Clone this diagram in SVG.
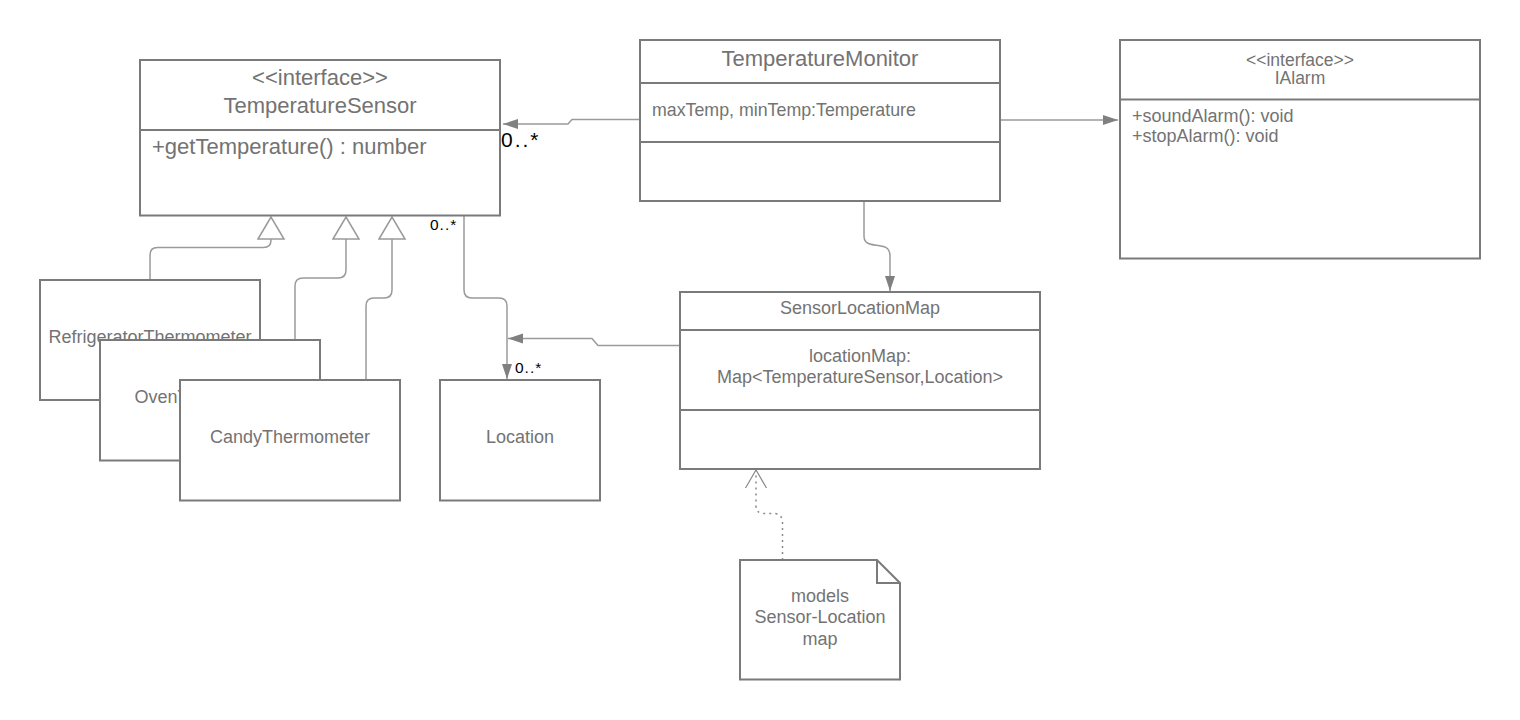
<svg xmlns="http://www.w3.org/2000/svg" width="1520" height="720" viewBox="0 0 1520 720">
<style>
.box{fill:#fff;stroke:#7a7a7a;stroke-width:2}
.div{stroke:#7a7a7a;stroke-width:2;fill:none}
.t{font-family:"Liberation Sans",Arial,sans-serif;fill:#737373}
.big{font-size:22px}
.sm{font-size:17.5px}
.mid{font-size:18px}
.c{text-anchor:middle}
.lbl{font-family:"Liberation Sans",Arial,sans-serif;fill:#000}
.con{fill:none;stroke:#9a9a9a;stroke-width:1.5}
.dot{fill:none;stroke:#8a8a8a;stroke-width:1.5;stroke-dasharray:2 4}
</style>
<defs>
<marker id="arr" markerUnits="userSpaceOnUse" markerWidth="16" markerHeight="12" viewBox="0 0 16 12" refX="15" refY="5" orient="auto">
<path d="M0,0 L15,5 L0,10 z" fill="#808080"/>
</marker>
<marker id="gen" markerUnits="userSpaceOnUse" markerWidth="26" markerHeight="30" viewBox="0 0 26 30" refX="23" refY="14" orient="auto">
<path d="M1,1 L23,14 L1,27 z" fill="#fff" stroke="#9a9a9a" stroke-width="1.5"/>
</marker>
<marker id="open" markerUnits="userSpaceOnUse" markerWidth="22" markerHeight="26" viewBox="0 0 22 26" refX="19" refY="12" orient="auto">
<path d="M1,1.5 L19,12 L1,22.5" fill="none" stroke="#8a8a8a" stroke-width="1.2"/>
</marker>
</defs>
<rect width="1520" height="720" fill="#fff"/>

<g id="connectors">
<path class="con" d="M640,119.5 H572 L568,124 H503" marker-end="url(#arr)"/>
<path class="con" d="M1000,120 H1118" marker-end="url(#arr)"/>
<path class="con" d="M864,201 V236 C864,252 890,238 890,256 V291" marker-end="url(#arr)"/>
<path class="con" d="M464,216 V290 Q464,298 472,298 H499 Q507,298 507,306 V379" marker-end="url(#arr)"/>
<path class="con" d="M680,345.5 H598 L592,338.5 H508" marker-end="url(#arr)"/>
<path class="con" d="M150,280 V255 Q150,247.5 157.5,247.5 H263.5 Q271,247.5 271,240 V217" marker-end="url(#gen)"/>
<path class="con" d="M295,340 V286 Q295,278 303,278 H338 Q346,278 346,270 V217" marker-end="url(#gen)"/>
<path class="con" d="M366,380 V306 Q366,298 374,298 H384 Q392,298 392,290 V217" marker-end="url(#gen)"/>
<path class="dot" d="M782.5,560 V522 Q782.5,515 775,513.5 H763 Q756,513 756,506 V470" marker-end="url(#open)"/>
<text class="lbl" x="501" y="147" font-size="21" letter-spacing="2">0..*</text>
<text class="lbl" x="430" y="230" font-size="15.5" letter-spacing="1">0..*</text>
<text class="lbl" x="515" y="373" font-size="15.5" letter-spacing="1">0..*</text>
</g>

<g id="TemperatureSensor">
<rect class="box" x="140" y="60" width="360" height="155.5"/>
<line class="div" x1="140" y1="130" x2="500" y2="130"/>
<text class="t big c" x="320" y="85">&lt;&lt;interface&gt;&gt;</text>
<text class="t big c" x="320" y="113">TemperatureSensor</text>
<text class="t big" x="152" y="154">+getTemperature() : number</text>
</g>

<g id="TemperatureMonitor">
<rect class="box" x="640" y="40" width="360" height="161"/>
<line class="div" x1="640" y1="83" x2="1000" y2="83"/>
<line class="div" x1="640" y1="142" x2="1000" y2="142"/>
<text class="t big c" x="820" y="66">TemperatureMonitor</text>
<text class="t" x="652" y="116" font-size="17.8">maxTemp, minTemp:Temperature</text>
</g>

<g id="IAlarm">
<rect class="box" x="1120" y="40" width="360" height="218.5"/>
<line class="div" x1="1120" y1="99.5" x2="1480" y2="99.5"/>
<text class="t sm c" x="1300" y="66">&lt;&lt;interface&gt;&gt;</text>
<text class="t sm c" x="1300" y="84">IAlarm</text>
<text class="t mid" x="1132" y="121.5">+soundAlarm(): void</text>
<text class="t mid" x="1132" y="141.5">+stopAlarm(): void</text>
</g>

<g id="RefrigeratorThermometer">
<rect class="box" x="40" y="280" width="220" height="120"/>
<text class="t mid c" x="150" y="343">RefrigeratorThermometer</text>
</g>

<g id="OvenThermometer">
<rect class="box" x="100" y="340" width="220" height="120.5"/>
<text class="t mid c" x="210" y="403">OvenThermometer</text>
</g>

<g id="CandyThermometer">
<rect class="box" x="180" y="380" width="220" height="120.5"/>
<text class="t mid c" x="290" y="443">CandyThermometer</text>
</g>

<g id="Location">
<rect class="box" x="440" y="380" width="160" height="120.5"/>
<text class="t mid c" x="520" y="443">Location</text>
</g>

<g id="SensorLocationMap">
<rect class="box" x="680" y="292" width="360" height="177"/>
<line class="div" x1="680" y1="330" x2="1040" y2="330"/>
<line class="div" x1="680" y1="410" x2="1040" y2="410"/>
<text class="t mid c" x="860" y="314">SensorLocationMap</text>
<text class="t mid c" x="860" y="361.5">locationMap:</text>
<text class="t mid c" x="860" y="383">Map&lt;TemperatureSensor,Location&gt;</text>
</g>

<g id="note">
<path class="box" d="M740,560 H877 L900,583 V679.5 H740 Z"/>
<path class="div" d="M877,560 V583 H900"/>
<text class="t mid c" x="820" y="601.5">models</text>
<text class="t mid c" x="820" y="623">Sensor-Location</text>
<text class="t mid c" x="820" y="644.5">map</text>
</g>
</svg>
